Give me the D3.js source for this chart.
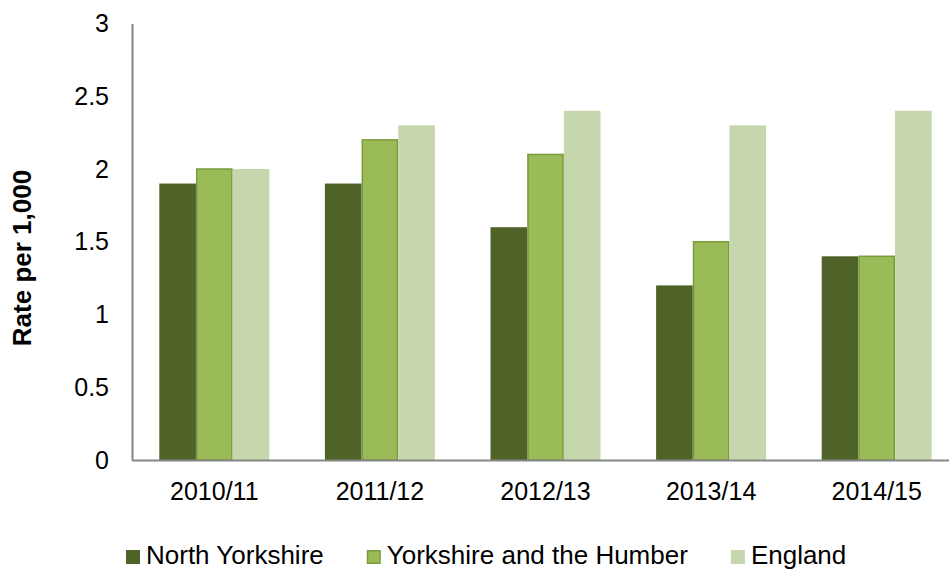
<!DOCTYPE html>
<html>
<head>
<meta charset="utf-8">
<script src="https://cdn.jsdelivr.net/npm/d3@7"></script>
<style>
  html, body { margin: 0; padding: 0; background: #fff; }
  svg { display: block; font-family: "Liberation Sans", Arial, sans-serif; }
</style>
</head>
<body>
<svg id="chart" width="949" height="569"></svg>
<script>
// Rate per 1,000 by year and area
const years = ["2010/11", "2011/12", "2012/13", "2013/14", "2014/15"];
const seriesNames = ["North Yorkshire", "Yorkshire and the Humber", "England"];
const northYorkshire = [1.9, 1.9, 1.6, 1.2, 1.4];
const yorkshireHumber = [2.0, 2.2, 2.1, 1.5, 1.4];
const england = [2.0, 2.3, 2.4, 2.3, 2.4];
const yTicks = [0, 0.5, 1, 1.5, 2, 2.5, 3];

const seriesValues = [northYorkshire, yorkshireHumber, england];
const fills = ["#4F6228", "#9BBB59", "#C7D7AD"];
const strokes = [null, "#7A9A3E", null];

const svg = d3.select("#chart");
const axisColor = "#868686";
const fontSize = 25;

const x = d3.scaleBand().domain(years).range([131.5, 959.5]).padding(0);
const inner = d3.scaleBand().domain(d3.range(seriesNames.length))
  .range([27.8, x.bandwidth() - 27.8]).padding(0);
const y = d3.scaleLinear().domain([0, 3]).range([460, 23.5]);

// bars
const groups = svg.append("g").selectAll("g")
  .data(years)
  .join("g")
  .attr("transform", d => `translate(${x(d)},0)`);

groups.selectAll("rect")
  .data((d, i) => seriesValues.map((vals, s) => ({ s, v: vals[i] })))
  .join("rect")
  .attr("x", d => inner(d.s) + (strokes[d.s] ? 0.75 : 0))
  .attr("width", d => inner.bandwidth() - (strokes[d.s] ? 1.5 : 0))
  .attr("y", d => y(d.v))
  .attr("height", d => y(0) - y(d.v))
  .attr("fill", d => fills[d.s])
  .attr("stroke", d => strokes[d.s] || "none")
  .attr("stroke-width", 1.5);

// y axis
const yAxis = svg.append("g")
  .attr("transform", "translate(132,0)")
  .call(d3.axisLeft(y).tickValues(yTicks).tickSize(0).tickPadding(23)
    .tickFormat(d3.format("")));
yAxis.select(".domain").attr("stroke", axisColor).attr("stroke-width", 2);
yAxis.selectAll("text")
  .attr("font-size", fontSize)
  .attr("font-family", "Liberation Sans, Arial, sans-serif")
  .attr("fill", "#000");

// x axis
const xAxis = svg.append("g")
  .attr("transform", `translate(0,${y(0)})`)
  .call(d3.axisBottom(x).tickSize(0).tickPadding(22));
xAxis.select(".domain").attr("stroke", axisColor).attr("stroke-width", 2);
xAxis.selectAll("text")
  .attr("font-size", fontSize)
  .attr("font-family", "Liberation Sans, Arial, sans-serif")
  .attr("fill", "#000");

// y axis title
svg.append("text")
  .attr("transform", "translate(31,258) rotate(-90)")
  .attr("text-anchor", "middle")
  .attr("font-size", 26)
  .attr("font-weight", "bold")
  .attr("fill", "#000")
  .text("Rate per 1,000");

// legend
const legend = svg.append("g").attr("transform", "translate(126,0)");
let cursor = 0;
seriesNames.forEach((name, s) => {
  const item = legend.append("g").attr("transform", `translate(${cursor},0)`);
  item.append("rect")
    .attr("x", strokes[s] ? 0.75 : 0)
    .attr("y", strokes[s] ? 550.75 : 550)
    .attr("width", strokes[s] ? 12.5 : 14)
    .attr("height", strokes[s] ? 12.5 : 14)
    .attr("fill", fills[s])
    .attr("stroke", strokes[s] || "none")
    .attr("stroke-width", 1.5);
  const t = item.append("text")
    .attr("x", 20)
    .attr("y", 564)
    .attr("font-size", 26)
    .attr("fill", "#000")
    .text(name);
  cursor += 20 + t.node().getComputedTextLength() + 43;
});
</script>
</body>
</html>
